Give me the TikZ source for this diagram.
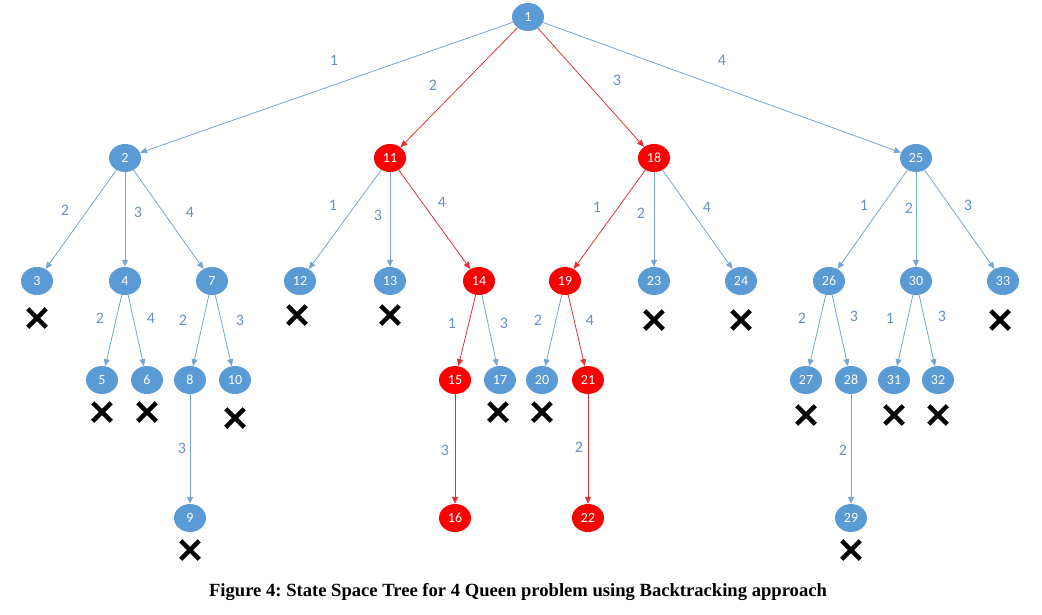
\documentclass[tikz,border=0pt]{standalone}
\usepackage{fontspec}
\setmainfont{Liberation Serif}
\newfontfamily\calfont{Carlito}
\usetikzlibrary{shapes.geometric, shapes.misc, arrows.meta}
\definecolor{nodeblue}{RGB}{91,155,213}
\definecolor{edgeblue}{RGB}{120,165,210}
\definecolor{labelblue}{RGB}{105,145,195}
\definecolor{nodered}{RGB}{250,0,0}
\definecolor{edgered}{RGB}{225,50,50}

\tikzset{
  state/.style={ellipse, fill=nodeblue, text=white, minimum width=32pt, minimum height=28pt, inner sep=0pt, font=\calfont\fontsize{14}{14}\selectfont},
  goal/.style={state, fill=nodered},
  edge/.style={draw=edgeblue, line width=0.8pt, -{Triangle[length=7pt,width=6pt]}},
  redge/.style={edge, draw=edgered},
  lbl/.style={text=labelblue, font=\calfont\fontsize{16}{16}\selectfont},
  dead/.style={cross out, draw=black, line width=4.5pt, minimum size=14pt, inner sep=0pt}
}

\begin{document}
\begin{tikzpicture}[x=1pt,y=-1pt]
    \useasboundingbox (0,0) rectangle (1042,614);

    % root
    \node[state] (n1) at (528,17) {1};

    % level 1
    \node[state] (n2) at (125,158) {2};
    \node[goal] (n11) at (390,158) {11};
    \node[goal] (n18) at (654,158) {18};
    \node[state] (n25) at (916,158) {25};

    % level 2
    \node[state] (n3) at (37,281) {3};
    \node[state] (n4) at (125,281) {4};
    \node[state] (n7) at (212,281) {7};
    \node[state] (n12) at (300,281) {12};
    \node[state] (n13) at (390,281) {13};
    \node[goal] (n14) at (479,281) {14};
    \node[goal] (n19) at (565,281) {19};
    \node[state] (n23) at (654,281) {23};
    \node[state] (n24) at (741,281) {24};
    \node[state] (n26) at (829,281) {26};
    \node[state] (n30) at (916,281) {30};
    \node[state] (n33) at (1003,281) {33};

    % level 3
    \node[state] (n5) at (102,380) {5};
    \node[state] (n6) at (147,380) {6};
    \node[state] (n8) at (190,380) {8};
    \node[state] (n10) at (235,380) {10};
    \node[goal] (n15) at (455,380) {15};
    \node[state] (n17) at (500,380) {17};
    \node[state] (n20) at (542,380) {20};
    \node[goal] (n21) at (588,380) {21};
    \node[state] (n27) at (806,380) {27};
    \node[state] (n28) at (851,380) {28};
    \node[state] (n31) at (894,380) {31};
    \node[state] (n32) at (938,380) {32};

    % level 4
    \node[state] (n9) at (190,518) {9};
    \node[goal] (n16) at (455,518) {16};
    \node[goal] (n22) at (588,518) {22};
    \node[state] (n29) at (851,518) {29};

    % edges
    \draw[edge] (n1) -- (n2);
    \draw[redge] (n1) -- (n11);
    \draw[redge] (n1) -- (n18);
    \draw[edge] (n1) -- (n25);
    \draw[edge] (n2) -- (n3);
    \draw[edge] (n2) -- (n4);
    \draw[edge] (n2) -- (n7);
    \draw[edge] (n11) -- (n12);
    \draw[edge] (n11) -- (n13);
    \draw[redge] (n11) -- (n14);
    \draw[redge] (n18) -- (n19);
    \draw[edge] (n18) -- (n23);
    \draw[edge] (n18) -- (n24);
    \draw[edge] (n25) -- (n26);
    \draw[edge] (n25) -- (n30);
    \draw[edge] (n25) -- (n33);
    \draw[edge] (n4) -- (n5);
    \draw[edge] (n4) -- (n6);
    \draw[edge] (n7) -- (n8);
    \draw[edge] (n7) -- (n10);
    \draw[redge] (n14) -- (n15);
    \draw[edge] (n14) -- (n17);
    \draw[edge] (n19) -- (n20);
    \draw[redge] (n19) -- (n21);
    \draw[edge] (n26) -- (n27);
    \draw[edge] (n26) -- (n28);
    \draw[edge] (n30) -- (n31);
    \draw[edge] (n30) -- (n32);
    \draw[edge] (n8) -- (n9);
    \draw[redge] (n15) -- (n16);
    \draw[redge] (n21) -- (n22);
    \draw[edge] (n28) -- (n29);

    % edge labels
    \node[lbl] (l1-2) at (334,60) {1};
    \node[lbl] (l1-11) at (433,85) {2};
    \node[lbl] (l1-18) at (617,80) {3};
    \node[lbl] (l1-25) at (722,60) {4};
    \node[lbl] (l2-3) at (65,210) {2};
    \node[lbl] (l2-4) at (138,212) {3};
    \node[lbl] (l2-7) at (190,212) {4};
    \node[lbl] (l11-12) at (333,205) {1};
    \node[lbl] (l11-13) at (378,215) {3};
    \node[lbl] (l11-14) at (442,202) {4};
    \node[lbl] (l18-19) at (597,207) {1};
    \node[lbl] (l18-23) at (641,213) {2};
    \node[lbl] (l18-24) at (707,207) {4};
    \node[lbl] (l25-26) at (864,205) {1};
    \node[lbl] (l25-30) at (909,208) {2};
    \node[lbl] (l25-33) at (968,205) {3};
    \node[lbl] (l4-5) at (100,318) {2};
    \node[lbl] (l4-6) at (151,318) {4};
    \node[lbl] (l7-8) at (183,320) {2};
    \node[lbl] (l7-10) at (240,320) {3};
    \node[lbl] (l14-15) at (452,323) {1};
    \node[lbl] (l14-17) at (504,323) {3};
    \node[lbl] (l19-20) at (538,320) {2};
    \node[lbl] (l19-21) at (590,320) {4};
    \node[lbl] (l26-27) at (802,318) {2};
    \node[lbl] (l26-28) at (854,316) {3};
    \node[lbl] (l30-31) at (890,318) {1};
    \node[lbl] (l30-32) at (942,316) {3};
    \node[lbl] (l8-9) at (182,448) {3};
    \node[lbl] (l15-16) at (445,450) {3};
    \node[lbl] (l21-22) at (579,447) {2};
    \node[lbl] (l28-29) at (843,450) {2};

    % dead ends
    \foreach \name/\x/\y in {3/37/318, 12/297/315, 13/390/315, 23/654/320, 24/741/320, 33/1000/320,
        5/102/412, 6/147/412, 10/235/418, 17/498/412, 20/542/412, 27/806/415, 31/894/415, 32/938/415,
        9/190/550, 29/851/550}
      \node[dead] (x\name) at (\x,\y) {};

    % caption
    \node[font=\bfseries\fontsize{18.6}{18.6}\selectfont\frenchspacing] (caption) at (518,592) {Figure 4: State Space Tree for 4 Queen problem using Backtracking approach};
\end{tikzpicture}
\end{document}
